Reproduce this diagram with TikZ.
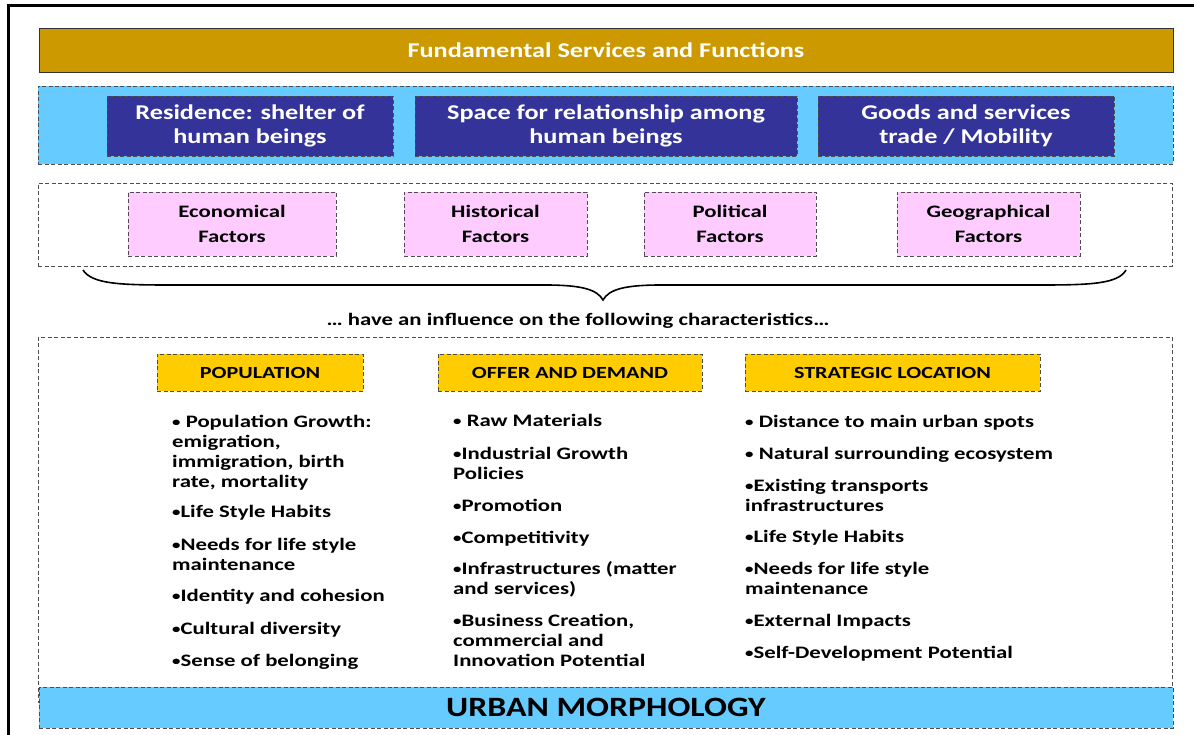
\documentclass[tikz,border=0pt]{standalone}
\usepackage{fontspec}
\setmainfont{Carlito}[FakeStretch=1.3]
\newfontfamily\widebig{Carlito}[FakeStretch=1.25]
\newfontfamily\widehuge{Carlito}[FakeStretch=1.21]
\definecolor{gold}{HTML}{CC9900}
\definecolor{lblue}{HTML}{66CCFF}
\definecolor{navy}{HTML}{333399}
\definecolor{pinkf}{HTML}{FFCCFF}
\definecolor{yell}{HTML}{FFCC00}
\definecolor{dashc}{HTML}{4D4D4D}
\newcommand{\bul}{\raisebox{1.2pt}{\fontsize{13}{13}\selectfont •}}
\tikzset{
  dbox/.style={draw=dashc, line width=0.9pt, dash pattern=on 4pt off 2.5pt, rectangle, inner sep=0pt},
  goldbar/.style={rectangle, draw=black!80, line width=0.8pt, fill=gold, inner sep=0pt,
     text=white, font=\widebig\fontsize{21}{24}\selectfont\bfseries},
  navybox/.style={dbox, fill=navy, text=white, align=center, minimum height=60pt,
     font=\widebig\fontsize{21}{24}\selectfont\bfseries},
  pinkbox/.style={dbox, fill=pinkf, align=center, minimum height=64pt,
     font=\fontsize{17.5}{25}\selectfont\bfseries},
  headbox/.style={dbox, fill=yell, minimum height=37pt,
     font=\fontsize{17}{20}\selectfont\bfseries},
  item/.style={anchor=north west, inner sep=0pt, align=left,
     font=\fontsize{17.5}{20}\selectfont\bfseries},
}
\begin{document}
\begin{tikzpicture}[x=1pt,y=-1pt]
\useasboundingbox (0,0) rectangle (1194,735);
% frame (only left and top edges visible)
\coordinate (fbl) at (8,735);
\coordinate (ftl) at (8,5.5);
\coordinate (ftr) at (1194,5.5);
\draw[line width=3pt] (fbl) -- (ftl) -- (ftr);

% top bar
\node[goldbar, minimum width=1134pt, minimum height=44pt] (fund) at (606,50) {Fundamental Services and Functions};

% functions band
\node[dbox, fill=lblue, minimum width=1135pt, minimum height=78pt] (band) at (605.5,125) {};
\node[navybox, minimum width=286pt] (res) at (250,126) {Residence: shelter of\\human beings};
\node[navybox, minimum width=382pt] (rel) at (606,126) {Space for relationship among\\human beings};
\node[navybox, minimum width=296pt] (goods) at (966,126) {Goods and services\\trade / Mobility};

% factors band
\node[dbox, fill=white, minimum width=1134pt, minimum height=83pt] (fac) at (605,224.5) {};
\node[pinkbox, minimum width=208pt] (eco) at (232,224) {Economical\\Factors};
\node[pinkbox, minimum width=183pt] (his) at (495.5,224) {Historical\\Factors};
\node[pinkbox, minimum width=172pt] (pol) at (730,224) {Political\\Factors};
\node[pinkbox, minimum width=183pt] (geo) at (988.5,224) {Geographical\\Factors};

% brace
\coordinate (bl) at (83,270);
\coordinate (bt) at (603,300);
\coordinate (br) at (1126,270);
\draw[line width=1.6pt] (bl) .. controls (92,284) and (120,285) .. (170,285)
  -- (545,285) .. controls (580,285) and (597,289) .. (bt)
  .. controls (609,289) and (626,285) .. (661,285)
  -- (1040,285) .. controls (1090,285) and (1118,284) .. (br);

\node[font=\fontsize{17.5}{20}\selectfont\bfseries] (infl) at (578,321) {\dots\ have an influence on the following characteristics\dots};

% characteristics box
\node[dbox, fill=white, minimum width=1134pt, minimum height=365pt, anchor=north] (chr) at (605,337) {};
\node[headbox, minimum width=206pt] (hpop) at (260,372.5) {POPULATION};
\node[headbox, minimum width=264pt] (hoff) at (570,372.5) {OFFER AND DEMAND};
\node[headbox, minimum width=295pt] (hstr) at (892.5,372.5) {STRATEGIC LOCATION};

% population column
\node[item] (p1) at (172,413) {\strut\bul\ Population Growth:\\emigration,\\immigration, birth\\rate, mortality};
\node[item] (p2) at (172,503) {\strut\bul Life Style Habits};
\node[item] (p3) at (172,536) {\strut\bul Needs for life style\\maintenance};
\node[item] (p4) at (172,587) {\strut\bul Identity and cohesion};
\node[item] (p5) at (172,620) {\strut\bul Cultural diversity};
\node[item] (p6) at (172,652) {\strut\bul Sense of belonging};

% offer column
\node[item] (o1) at (453,412) {\strut\bul\ Raw Materials};
\node[item] (o2) at (453,445) {\strut\bul Industrial Growth\\Policies};
\node[item] (o3) at (453,497) {\strut\bul Promotion};
\node[item] (o4) at (453,529) {\strut\bul Competitivity};
\node[item] (o5) at (453,560) {\strut\bul Infrastructures (matter\\and services)};
\node[item] (o6) at (453,612) {\strut\bul Business Creation,\\commercial and\\Innovation Potential};

% strategic column
\node[item] (s1) at (745,413) {\strut\bul\ Distance to main urban spots};
\node[item] (s2) at (745,445) {\strut\bul\ Natural surrounding ecosystem};
\node[item] (s3) at (745,477) {\strut\bul Existing transports\\infrastructures};
\node[item] (s4) at (745,528) {\strut\bul Life Style Habits};
\node[item] (s5) at (745,560) {\strut\bul Needs for life style\\maintenance};
\node[item] (s6) at (745,612) {\strut\bul External Impacts};
\node[item] (s7) at (745,644) {\strut\bul Self-Development Potential};

% bottom bar
\node[dbox, fill=lblue, minimum width=1134pt, minimum height=41pt,
  font=\widehuge\fontsize{28}{32}\selectfont\bfseries] (morph) at (606,707.5) {URBAN MORPHOLOGY};
\end{tikzpicture}
\end{document}
